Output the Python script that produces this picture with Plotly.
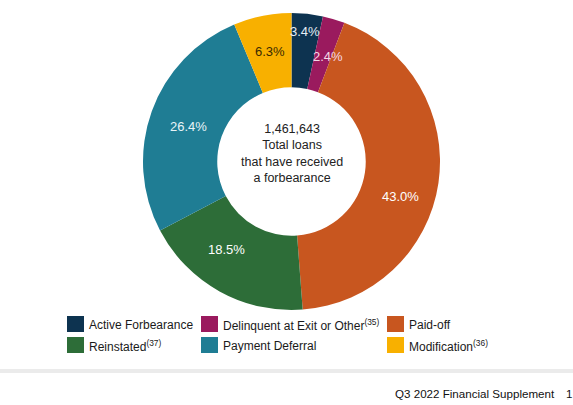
import math
import plotly.graph_objects as go

# Forbearance outcomes (share of total loans, %)
labels = ["Active Forbearance", "Delinquent at Exit or Other", "Paid-off",
          "Reinstated", "Payment Deferral", "Modification"]
legend_notes = ["", "(35)", "", "(37)", "", "(36)"]
shares = [3.4, 2.4, 43.0, 18.5, 26.4, 6.3]
colors = ["#0d3350", "#9a1a5e", "#c8561f", "#2d6d38", "#1f7d94", "#f8b000"]
text_colors = ["#e6eef5", "#f4d8e6", "#ffffff", "#ffffff", "#e8f4f8", "#3a2a00"]
total_loans = 1461643

W, H = 573, 405
FONT = "Liberation Sans, Arial, sans-serif"

# Donut geometry in pixels
CX, CY, R = 291.5, 161.5, 148.5
HOLE = 0.5
# Per-label nudges (px) applied to the mid-ring position of each slice label
label_nudge = [(2, -19), (5, 2), (-1, 19), (-11, -9), (2, 3), (0, -1)]

fig = go.Figure()
fig.add_trace(go.Pie(
    labels=labels,
    values=shares,
    textinfo="none",
    marker=dict(colors=colors, line=dict(width=0)),
    hole=HOLE,
    sort=False,
    direction="clockwise",
    rotation=0,
    showlegend=False,
    domain=dict(x=[(CX - R) / W, (CX + R) / W], y=[1 - (CY + R) / H, 1 - (CY - R) / H]),
))

shapes = []
annotations = []

# Slice percentage labels, placed at the middle of the ring at each slice's mid-angle
total = sum(shares)
cum = 0.0
r_mid = R * (1 + HOLE) / 2
for v, tc, (dx, dy) in zip(shares, text_colors, label_nudge):
    ang = 2 * math.pi * (cum + v / 2) / total
    cum += v
    px = CX + r_mid * math.sin(ang) + dx
    py = CY - r_mid * math.cos(ang) + dy
    annotations.append(dict(
        x=px / W, y=1 - py / H, xref="paper", yref="paper",
        xanchor="center", yanchor="middle", text=f"{v:.1f}%", showarrow=False,
        font=dict(family=FONT, size=13, color=tc),
    ))

# Centre caption
annotations.append(dict(
    x=CX / W, y=1 - 154 / H, xref="paper", yref="paper",
    text=f"{total_loans:,}<br>Total loans<br>that have received<br>a forbearance",
    showarrow=False, align="center",
    font=dict(family=FONT, size=12.5, color="#222222"),
))

# Legend: two rows, three columns
col_x = [67, 201, 387]
row_y = [316, 337]
for i, (lab, note, col) in enumerate(zip(labels, legend_notes, colors)):
    r, c = divmod(i, 3)
    x0, y0 = col_x[c], row_y[r]
    shapes.append(dict(type="rect", xref="paper", yref="paper",
                       x0=x0 / W, x1=(x0 + 17) / W,
                       y0=1 - (y0 + 16) / H, y1=1 - y0 / H,
                       fillcolor=col, line=dict(width=0)))
    txt = lab + (f"<sup>{note}</sup>" if note else "")
    annotations.append(dict(
        x=(x0 + 20) / W, y=1 - (y0 + 9) / H, xref="paper", yref="paper",
        xanchor="left", yanchor="middle", text=txt, showarrow=False,
        font=dict(family=FONT, size=12, color="#1a1a1a"),
    ))

# Footer separator, page caption and page number
shapes.append(dict(type="rect", xref="paper", yref="paper",
                   x0=0, x1=1, y0=1 - 373 / H, y1=1 - 369 / H,
                   fillcolor="#ebebeb", line=dict(width=0)))
annotations.append(dict(
    x=394 / W, y=1 - 393 / H, xref="paper", yref="paper",
    xanchor="left", yanchor="middle", borderpad=0,
    text="Q3 2022 Financial Supplement", showarrow=False,
    font=dict(family=FONT, size=11.6, color="#111111"),
))
annotations.append(dict(
    x=573 / W, y=1 - 393 / H, xref="paper", yref="paper",
    xanchor="right", yanchor="middle", borderpad=0,
    text="1", showarrow=False,
    font=dict(family=FONT, size=11.6, color="#111111"),
))

fig.update_layout(
    width=W, height=H,
    margin=dict(l=0, r=0, t=0, b=0),
    paper_bgcolor="white", plot_bgcolor="white",
    shapes=shapes, annotations=annotations,
)

fig.write_html("out.html")
